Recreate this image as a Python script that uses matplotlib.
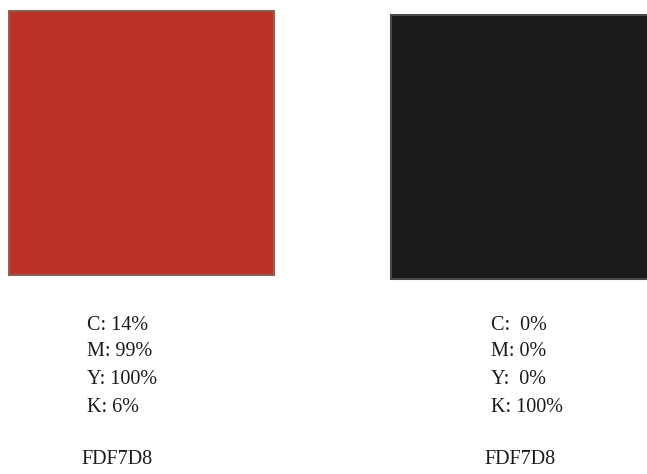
import matplotlib
matplotlib.use('Agg')
from matplotlib import pyplot as plt
from matplotlib.patches import Rectangle

# Swatch data
swatch_colors = ['#bb3128', '#1b1a1b']
edge_colors = ['#8a6253', '#4a4a4a']
cmyk_labels = [
    ['C: 14%', 'M: 99%', 'Y: 100%', 'K: 6%'],
    ['C:  0%', 'M: 0%', 'Y:  0%', 'K: 100%'],
]
hex_codes = ['FDF7D8', 'FDF7D8']

# Layout (pixel space)
box_x = [9, 391]
box_y = [11, 15]
box_w = [265, 260]
box_h = [264, 264]
text_x = [87, 491]
hex_x = [81, 484]
line_y = [325, 352, 379, 407]
hex_y = 459

fig = plt.figure(figsize=(6.47, 4.74), dpi=100)
ax = fig.add_axes([0, 0, 1, 1])
ax.set_xlim(0, 647)
ax.set_ylim(474, 0)
ax.axis('off')

for i in range(len(swatch_colors)):
    ax.add_patch(Rectangle((box_x[i], box_y[i]), box_w[i], box_h[i],
                           facecolor=swatch_colors[i], edgecolor=edge_colors[i], linewidth=1.5))
    for j, label in enumerate(cmyk_labels[i]):
        ax.text(text_x[i], line_y[j], label, fontsize=14.5, family='Liberation Serif',
                color='#1a1a1a', va='center', ha='left')
    ax.text(hex_x[i], hex_y, hex_codes[i], fontsize=14.5, family='Liberation Serif',
            color='#1a1a1a', va='center', ha='left')

plt.savefig('out.png', dpi=100)
